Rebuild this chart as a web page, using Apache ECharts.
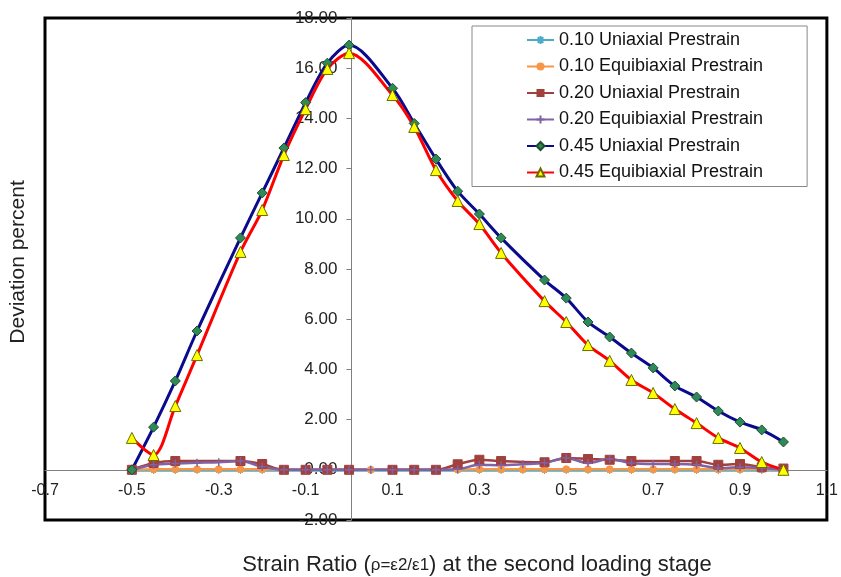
<!DOCTYPE html>
<html>
<head>
<meta charset="utf-8">
<script src="https://cdn.jsdelivr.net/npm/echarts@6/dist/echarts.min.js"></script>
<style>
html,body{margin:0;padding:0;background:#fff;}
#chart{width:841px;height:577px;}
</style>
</head>
<body>
<div id="chart"></div>
<script>
// ---- data ----
const seriesNames = [
  '0.10 Uniaxial Prestrain',
  '0.10 Equibiaxial Prestrain',
  '0.20 Uniaxial Prestrain',
  '0.20 Equibiaxial Prestrain',
  '0.45 Uniaxial Prestrain',
  '0.45 Equibiaxial Prestrain'
];
const xFull = [-0.5,-0.45,-0.4,-0.35,-0.3,-0.25,-0.2,-0.15,-0.1,-0.05,0,0.05,0.1,0.15,0.2,0.25,0.3,0.35,0.4,0.45,0.5,0.55,0.6,0.65,0.7,0.75,0.8,0.85,0.9,0.95,1.0];
const x20u = [-0.5,-0.45,-0.4,-0.25,-0.2,-0.15,-0.1,-0.05,0,0.1,0.15,0.2,0.25,0.3,0.35,0.45,0.5,0.55,0.6,0.65,0.75,0.8,0.85,0.9,0.95,1.0];
const x45 = [-0.5,-0.45,-0.4,-0.35,-0.25,-0.2,-0.15,-0.1,-0.05,0,0.1,0.15,0.2,0.25,0.3,0.35,0.45,0.5,0.55,0.6,0.65,0.7,0.75,0.8,0.85,0.9,0.95,1.0];

const uni010 = [-0.03,-0.03,-0.03,-0.03,-0.03,-0.03,-0.03,-0.03,-0.03,-0.03,-0.03,-0.03,-0.03,-0.03,-0.03,-0.03,-0.03,-0.03,-0.03,-0.03,-0.03,-0.03,-0.03,-0.03,-0.03,-0.03,-0.03,-0.03,-0.03,-0.03,-0.03];
const equi010 = [0,0.02,0.02,0.02,0.02,0.02,0.02,0.01,0,0,0,0,0,0,0,0.01,0.02,0.02,0.02,0.02,0.02,0.02,0.02,0.02,0.02,0.02,0.02,0.02,0.02,0.02,0];
const uni020 = [0,0.27,0.35,0.35,0.23,0,0,0,0,0,0,0,0.22,0.4,0.35,0.3,0.47,0.43,0.4,0.35,0.35,0.35,0.2,0.23,0.1,0.05];
const equi020 = [0,0.2,0.25,0.28,0.3,0.35,0.12,0,0,0,0,0,0,0,0,0.02,0.2,0.18,0.22,0.28,0.47,0.27,0.43,0.27,0.23,0.23,0.2,0.07,0.1,0.07,0];
const uni045 = [0.0,1.70,3.54,5.53,9.24,11.03,12.82,14.63,16.2,16.92,15.2,13.8,12.38,11.1,10.19,9.24,7.56,6.84,5.89,5.29,4.65,4.06,3.34,2.90,2.34,1.90,1.59,1.11];
const equi045 = [1.27,0.59,2.54,4.57,8.68,10.35,12.54,14.37,15.97,16.6,14.93,13.66,11.94,10.71,9.79,8.64,6.72,5.89,4.97,4.34,3.58,3.06,2.42,1.86,1.27,0.87,0.31,0.0];

const xTitle = 'Strain Ratio (';
const xTitleSym = 'ρ=ε2/ε1';
const xTitleEnd = ') at the second loading stage';
const yTitle = 'Deviation percent';

const xMin = -0.7, xMax = 1.1, yMin = -2, yMax = 18;

function pairs(xs, ys){ return xs.map((x,i)=>[x, ys[i]]); }

const FONT = 'Liberation Sans, Arial, sans-serif';
const GRID = {left:45, right:8, top:18, bottom:57};
const W = 841, H = 577;
const gw = W - GRID.left - GRID.right, gh = H - GRID.top - GRID.bottom;
// shift axes so they cross at the origin (labels travel with them)
const yAxisOffset = -gw * (0 - xMin) / (xMax - xMin);
const xAxisOffset = -gh * (0 - yMin) / (yMax - yMin);

const chart = echarts.init(document.getElementById('chart'), null, {renderer:'canvas'});

const asterisk = 'path://M0,5L10,5M5,0L5,10M1.5,1.5L8.5,8.5M8.5,1.5L1.5,8.5';
const plus = 'path://M0,5L10,5M5,0L5,10';

chart.setOption({
  animation: false,
  backgroundColor: '#fff',
  grid: Object.assign({show:true, borderColor:'#000', borderWidth:3, backgroundColor:'#fff'}, GRID),
  xAxis: {
    type:'value', min:xMin, max:xMax, interval:0.2, offset:xAxisOffset,
    axisLine:{onZero:false, lineStyle:{color:'#808080', width:1}},
    axisTick:{show:false},
    splitLine:{show:false},
    axisLabel:{formatter:v=>v.toFixed(1), fontSize:16, fontFamily:FONT, color:'#222', margin:13, showMinLabel:true, showMaxLabel:true}
  },
  yAxis: {
    type:'value', min:yMin, max:yMax, interval:2, offset:yAxisOffset,
    axisLine:{onZero:false, lineStyle:{color:'#808080', width:1}},
    axisTick:{show:true, length:5, lineStyle:{color:'#808080'}},
    splitLine:{show:false},
    axisLabel:{formatter:v=>v.toFixed(2), fontSize:17, fontFamily:FONT, color:'#222', margin:14, showMinLabel:true, showMaxLabel:true}
  },
  legend: {
    orient:'vertical', left:472, top:26,
    backgroundColor:'#fff', borderColor:'#888', borderWidth:1,
    padding:[5,44,5,54], itemWidth:27, itemHeight:10, itemGap:8.5,
    textStyle:{fontSize:18, fontFamily:FONT, color:'#111', lineHeight:18},
    data: seriesNames
  },
  graphic: [
    {type:'text', x:18, y:262, rotation:Math.PI/2,
      style:{text:yTitle, font:'21px ' + FONT, fill:'#222', textAlign:'center', textVerticalAlign:'middle'}},
    {type:'text', x:477, y:565,
      style:{text:'{a|' + xTitle + '}{b|' + xTitleSym + '}{a|' + xTitleEnd + '}', textAlign:'center', textVerticalAlign:'middle',
        rich:{a:{fontSize:22, fontFamily:FONT, fill:'#222', color:'#222'}, b:{fontSize:17, fontFamily:FONT, fill:'#222', color:'#222'}}}}
  ],
  series: [
    {name:seriesNames[0], type:'line', smooth:0.3, data:pairs(xFull, uni010), symbol:asterisk, symbolSize:7,
      lineStyle:{color:'#4BACC6', width:2.5}, itemStyle:{color:'#4BACC6', borderColor:'#4BACC6', borderWidth:1}},
    {name:seriesNames[1], type:'line', smooth:0.3, data:pairs(xFull, equi010), symbol:'circle', symbolSize:7,
      lineStyle:{color:'#F79646', width:2.5}, itemStyle:{color:'#F79646', borderColor:'#F79646'}},
    {name:seriesNames[2], type:'line', smooth:0.3, data:pairs(x20u, uni020), symbol:'rect', symbolSize:9,
      lineStyle:{color:'#A0413E', width:2.5}, itemStyle:{color:'#A0413E', borderColor:'#A0413E'}},
    {name:seriesNames[3], type:'line', smooth:0.3, data:pairs(xFull, equi020), symbol:plus, symbolSize:8,
      lineStyle:{color:'#7F62A8', width:2.5}, itemStyle:{color:'#7F62A8', borderColor:'#7F62A8', borderWidth:1.5}},
    {name:seriesNames[4], type:'line', smooth:0.3, data:pairs(x45, uni045), symbol:'diamond', symbolSize:10,
      lineStyle:{color:'#0A0A8C', width:3}, itemStyle:{color:'#2E8B57', borderColor:'#1E4D2E', borderWidth:1}},
    {name:seriesNames[5], type:'line', smooth:0.3, data:pairs(x45, equi045), symbol:'triangle', symbolSize:11,
      lineStyle:{color:'#FF0000', width:3}, itemStyle:{color:'#FFFF00', borderColor:'#6B6B00', borderWidth:1}}
  ]
});
</script>
</body>
</html>
